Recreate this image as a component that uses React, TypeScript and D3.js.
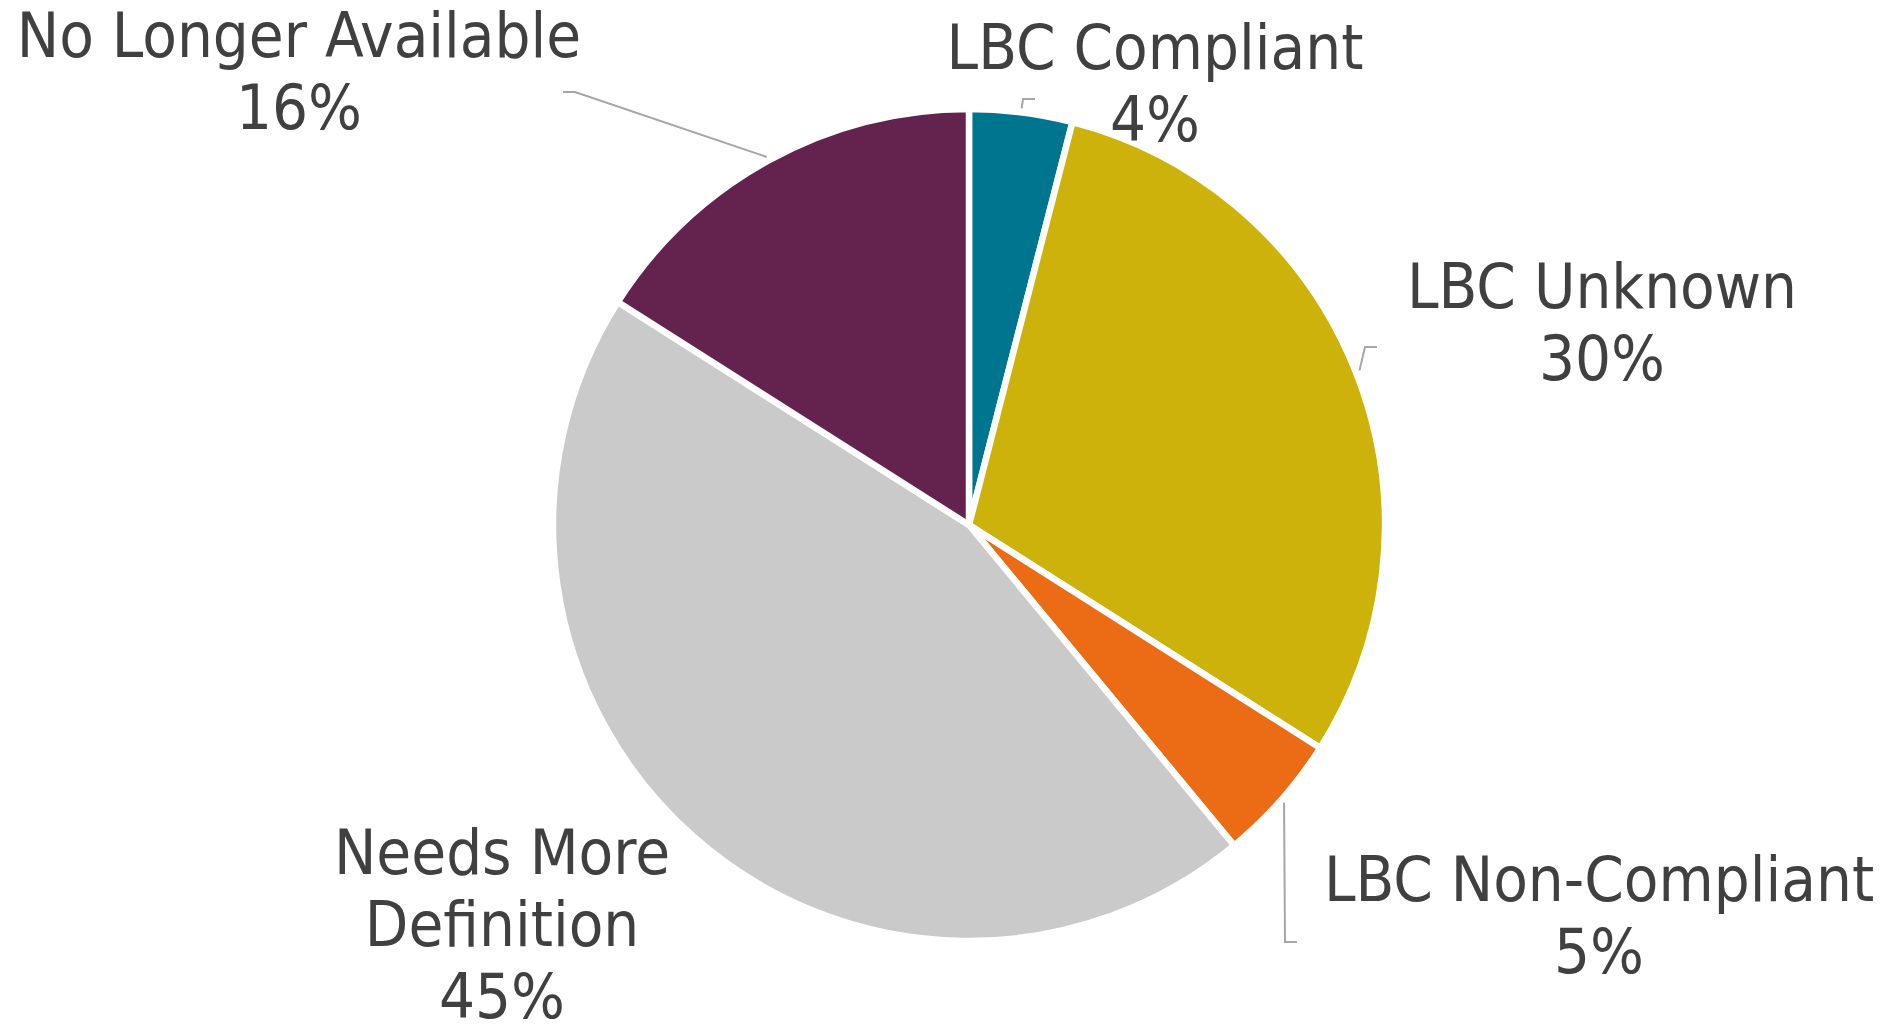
import React from "react";
import * as d3 from "d3";

const categories = ["LBC Compliant", "LBC Unknown", "LBC Non-Compliant", "Needs More Definition", "No Longer Available"];
const values = [4, 30, 5, 45, 16];
const colors = ["#00758F", "#CDB20B", "#EC6C16", "#CACACA", "#63234E"];
const labelLines = [["LBC Compliant", "4%"], ["LBC Unknown", "30%"], ["LBC Non-Compliant", "5%"], ["Needs More", "Definition", "45%"], ["No Longer Available", "16%"]];

// layout
const W = 1891, H = 1026;
const cx = 969, cy = 525, R = 416;
const labelPos = [
  { x: 1155, y: 69 },
  { x: 1602, y: 308 },
  { x: 1599, y: 901 },
  { x: 502, y: 874 },
  { x: 299, y: 57 },
];
// leader elbow paths: [elbow, end] per slice (null = none)
const leaders: ([number, number][] | null)[] = [
  [[1023, 99], [1035, 99]],
  [[1365, 347], [1377, 347]],
  [[1285, 942], [1297, 942]],
  null,
  [[575, 92], [563, 92]],
];

export default function App() {
  const pie = d3.pie<number>().sort(null).value((d) => d);
  const arcs = pie(values);
  const arc = d3.arc<d3.PieArcDatum<number>>().innerRadius(0).outerRadius(R);
  const lh = 72;
  return (
    <svg width={W} height={H} style={{ position: "absolute", left: 0, top: 0, background: "#fff" }}>
      <g transform={`translate(${cx},${cy})`}>
        {arcs.map((a, i) => (
          <path key={i} d={arc(a) || ""} fill={colors[i]} stroke="#fff" strokeWidth={6.5} strokeLinejoin="round" />
        ))}
      </g>
      {arcs.map((a, i) => {
        const L = leaders[i];
        if (!L) return null;
        const mid = (a.startAngle + a.endAngle) / 2;
        const sx = cx + (R + 4) * Math.sin(mid);
        const sy = cy - (R + 4) * Math.cos(mid);
        const pts = [[sx, sy], ...L];
        return (
          <polyline key={"l" + i} points={pts.map((p) => p.join(",")).join(" ")} fill="none" stroke="#A6A6A6" strokeWidth={2} />
        );
      })}
      {labelLines.map((lines, i) => (
        <text key={"t" + i} x={labelPos[i].x} textAnchor="middle" fill="#404040"
          style={{ fontFamily: "'DejaVu Sans Condensed', 'DejaVu Sans', sans-serif", fontSize: 63 }}>
          {lines.map((s, j) => (
            <tspan key={j} x={labelPos[i].x} y={labelPos[i].y + j * lh}>{s}</tspan>
          ))}
        </text>
      ))}
    </svg>
  );
}
